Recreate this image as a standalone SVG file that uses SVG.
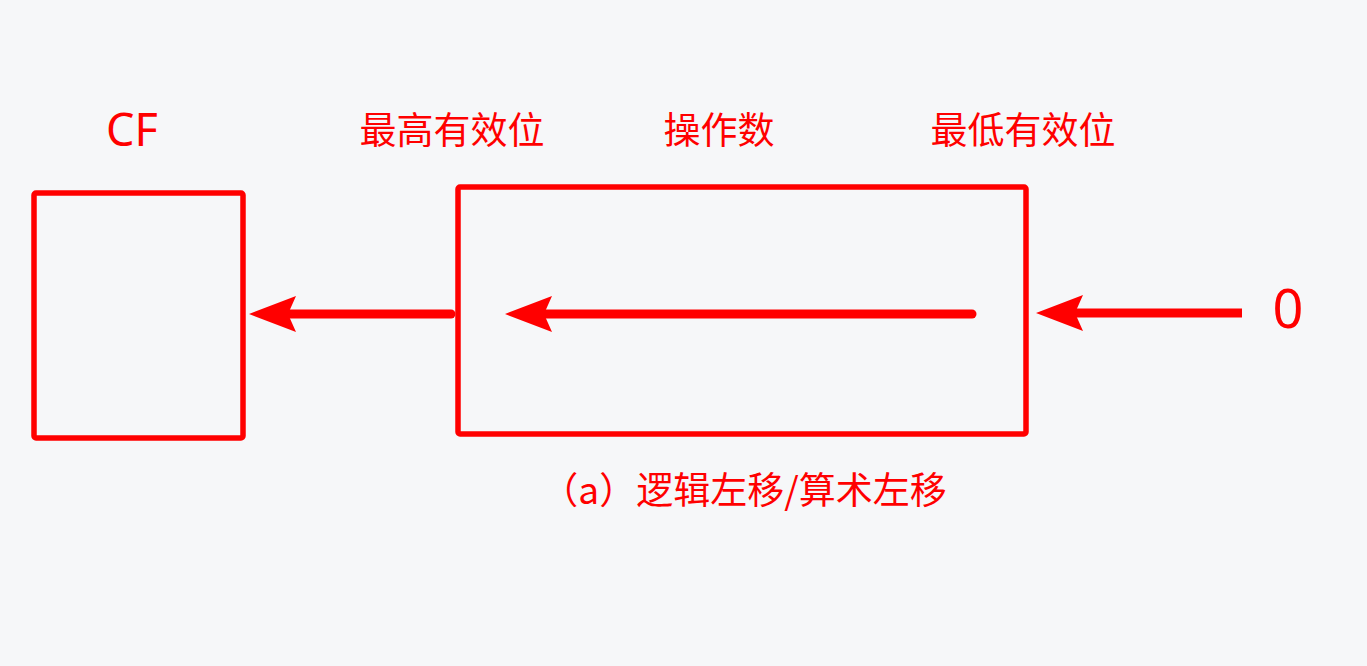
<svg xmlns="http://www.w3.org/2000/svg" width="1367" height="666" viewBox="0 0 1367 666">
<style>
.box{fill:none;stroke:#ff0000;stroke-width:5.5;stroke-linejoin:round}
.lbl{fill:#ff0000;font-family:"Noto Sans","Noto Sans CJK SC",sans-serif}
.cjk{fill:#ff0000;font-family:"Noto Sans CJK SC","Noto Sans",sans-serif;font-size:37px}
.conn{stroke:#ff0000;stroke-width:9;fill:none}
</style>
<defs>
<marker id="ah" markerUnits="userSpaceOnUse" viewBox="0 -19 48 38" markerWidth="48" markerHeight="38" refX="8" refY="0" orient="auto">
<path d="M0,-18 L47,0 L0,18 L8,0 Z" fill="#ff0000"/>
</marker>
</defs>
<rect width="1367" height="666" fill="#f6f7f9"/>
<g id="cf">
<rect class="box" x="34" y="193" width="209" height="245" rx="2"/>
<text class="lbl" x="132" y="146" font-size="45" text-anchor="middle">CF</text>
</g>
<g id="operand">
<rect class="box" x="458" y="187" width="568" height="247" rx="2"/>
<text class="cjk" x="452" y="144" text-anchor="middle">最高有效位</text>
<text class="cjk" x="719" y="144" text-anchor="middle">操作数</text>
<text class="cjk" x="1023" y="144" text-anchor="middle">最低有效位</text>
</g>
<g id="zero">
<text class="lbl" x="1288" y="328" font-size="54" text-anchor="middle">0</text>
</g>
<g id="caption">
<text class="cjk" x="744" y="504" text-anchor="middle" font-size="36">（a）逻辑左移/算术左移</text>
</g>
<g id="connectors">
<line class="conn" x1="451" y1="314" x2="288" y2="314" stroke-linecap="round" marker-end="url(#ah)"/>
<line class="conn" x1="972" y1="314" x2="544" y2="314" stroke-linecap="round" marker-end="url(#ah)"/>
<line class="conn" x1="1242" y1="313" x2="1075" y2="313" marker-end="url(#ah)"/>
</g>
</svg>
